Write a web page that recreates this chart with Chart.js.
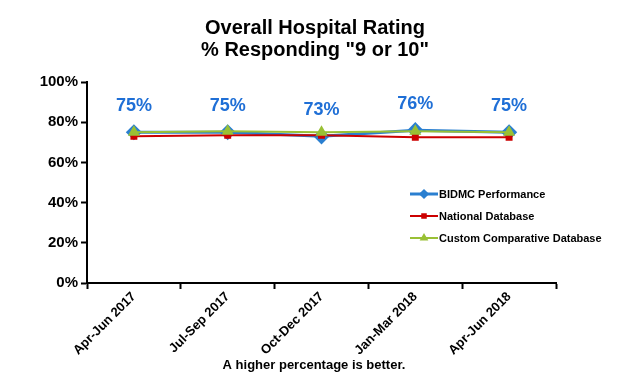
<!DOCTYPE html>
<html><head><meta charset="utf-8">
<script src="https://cdn.jsdelivr.net/npm/chart.js@4.4.1/dist/chart.umd.min.js"></script>
<style>html,body{margin:0;padding:0;background:#fff}#wrap{width:620px;height:375px}</style>
</head><body><div id="wrap"><canvas id="c" width="620" height="375"></canvas></div>
<script>
const categories = ["Apr-Jun 2017","Jul-Sep 2017","Oct-Dec 2017","Jan-Mar 2018","Apr-Jun 2018"];
const bidmc = [75,75,73,76,75];
const national = [73,73.5,73.5,72.5,72.5];
const custom = [75,75.5,75,75.5,75];
const yTicks = [0,20,40,60,80,100];
const titleLines = ["Overall Hospital Rating", "% Responding \"9 or 10\""];
const footerText = "A higher percentage is better.";
const F = "'Liberation Sans', Arial, sans-serif";

const textPlugin = {
  id: 'texts',
  afterDatasetsDraw(chart) {
    const ctx = chart.ctx;
    ctx.save();
    const meta = chart.getDatasetMeta(0);
    ctx.font = "bold 18px " + F;
    ctx.fillStyle = "#1f6fd6";
    ctx.textAlign = "center";
    ctx.textBaseline = "middle";
    meta.data.forEach((pt, i) => {
      ctx.fillText(Math.round(bidmc[i]) + "%", pt.x, pt.y - 26);
    });
    ctx.fillStyle = "#000";
    ctx.font = "bold 20px " + F;
    ctx.fillText(titleLines[0], 315, 28);
    ctx.fillText(titleLines[1], 315, 50);
    ctx.font = "bold 13px " + F;
    ctx.fillText(footerText, 314, 365);
    ctx.textAlign = "left";
    ctx.font = "bold 11px " + F;
    const ys = [194, 216, 238];
    chart.data.datasets.forEach((ds, i) => {
      const y = ys[i];
      ctx.strokeStyle = ds.borderColor;
      ctx.lineWidth = ds.borderWidth;
      ctx.beginPath(); ctx.moveTo(410, y); ctx.lineTo(438, y); ctx.stroke();
      ctx.fillStyle = ds.pointBackgroundColor;
      Chart.helpers.drawPoint(ctx, {pointStyle: ds.pointStyle, radius: ds.legendRadius, borderWidth: 1}, 424, y);
      ctx.fillStyle = "#000";
      ctx.fillText(ds.label, 439, y + 0.5);
    });
    ctx.restore();
  }
};

new Chart(document.getElementById('c'), {
  type: 'line',
  data: {
    labels: categories,
    datasets: [
      {label: "BIDMC Performance", data: bidmc, borderColor: "#2a7fd0", backgroundColor: "#2a7fd0",
       pointBackgroundColor: "#2a7fd0", pointBorderColor: "#2a7fd0", borderWidth: 3,
       pointStyle: 'rectRot', pointRadius: 6, legendRadius: 3, order: 2},
      {label: "National Database", data: national, borderColor: "#cc0000", backgroundColor: "#cc0000",
       pointBackgroundColor: "#cc0000", pointBorderColor: "#cc0000", borderWidth: 2,
       pointStyle: 'rect', pointRadius: 3.5, legendRadius: 2.5, order: 1},
      {label: "Custom Comparative Database", data: custom, borderColor: "#99c035", backgroundColor: "#99c035",
       pointBackgroundColor: "#99c035", pointBorderColor: "#99c035", borderWidth: 2,
       pointStyle: 'triangle', pointRadius: 5, legendRadius: 3, order: 0}
    ]
  },
  options: {
    responsive: false,
    animation: false,
    layout: {padding: {top: 82, right: 64, bottom: 0, left: 0}},
    plugins: {legend: {display: false}, tooltip: {enabled: false}, title: {display: false}},
    elements: {line: {tension: 0}},
    scales: {
      x: {
        offset: true,
        grid: {display: true, drawOnChartArea: false, offset: true, tickLength: 6, color: "#000", tickWidth: 2},
        border: {display: true, color: "#000", width: 2},
        ticks: {color: "#000", font: {family: F, size: 13, weight: 'bold'}, maxRotation: 45, minRotation: 45, padding: 0, autoSkip: false},
        afterFit(s) { s.height = 92; }
      },
      y: {
        min: 0, max: 100,
        afterBuildTicks(s) { s.ticks = yTicks.map(v => ({value: v})); },
        grid: {display: true, drawOnChartArea: false, tickLength: 6, color: "#000", tickWidth: 2},
        border: {display: true, color: "#000", width: 2},
        ticks: {color: "#000", font: {family: F, size: 15, weight: 'bold'}, padding: 3, callback: v => v + "%"},
        afterFit(s) { s.width = 87; }
      }
    }
  },
  plugins: [textPlugin]
});
</script>
</body></html>
